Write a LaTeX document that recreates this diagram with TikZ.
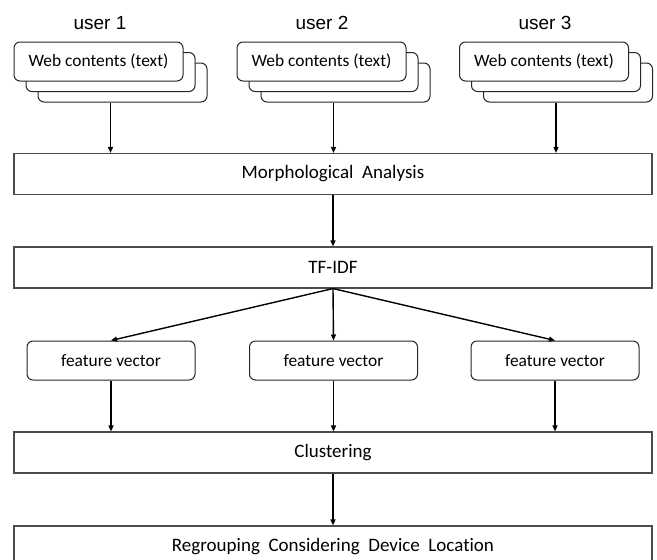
\documentclass[tikz,border=0pt]{standalone}
\usepackage{fontspec}
\setmainfont[Ligatures=NoCommon]{Carlito}
\newfontfamily\arialfont{Liberation Sans}
\usetikzlibrary{arrows.meta}
\begin{document}
\begin{tikzpicture}[x=1pt,y=-1pt,
  rectbox/.style={draw=black!70,line width=1.1pt,fill=white,minimum width=638pt,minimum height=41pt,inner sep=0pt,font=\fontsize{19}{22}\selectfont},
  webbox/.style={draw=black!85,line width=1pt,fill=white,rounded corners=6pt,minimum width=169pt,minimum height=39pt,inner sep=0pt,font=\fontsize{17.4}{20}\selectfont},
  fvbox/.style={draw=black!85,line width=1pt,fill=white,rounded corners=6pt,minimum width=168pt,minimum height=39pt,inner sep=0pt,font=\fontsize{17.4}{20}\selectfont},
  userlbl/.style={font=\arialfont\fontsize{19}{22}\selectfont,inner sep=0pt},
  arr/.style={draw=black,line width=1.4pt,-{Triangle[length=6pt,width=5pt]}}]
\useasboundingbox (0,0) rectangle (657,560);
% user stacks
\foreach \n/\cx/\lx in {1/98.5/100,2/321.5/322,3/544/545}{
  \node[webbox] (u\n c) at (\cx+24,82.5) {};
  \node[webbox] (u\n b) at (\cx+12,72) {};
  \node[webbox] (u\n a) at (\cx,61.5) {Web contents (text)};
  \node[userlbl] (l\n) at (\lx,23) {user \n};
}
\node[rectbox] (morph) at (333,174) {Morphological\ \ Analysis};
\node[rectbox] (tfidf) at (333,267.5) {TF-IDF};
\node[fvbox] (fv1) at (111,360.5) {feature vector};
\node[fvbox] (fv2) at (333.5,360.5) {feature vector};
\node[fvbox] (fv3) at (555,360.5) {feature vector};
\node[rectbox] (clust) at (333,452.5) {Clustering};
\node[rectbox] (regr) at (333,546.5) {Regrouping\ \ Considering\ \ Device\ \ Location};
% connectors
\foreach \n in {1,2,3}{
  \draw[arr] (u\n b.south |- u\n c.south) -- (u\n b.south |- morph.north);
}
\draw[arr] (morph.south) -- (tfidf.north);
\draw[arr] (tfidf.south) -- (fv1.north);
\draw[arr] (tfidf.south) -- (fv2.north);
\draw[arr] (tfidf.south) -- (fv3.north);
\foreach \n in {1,2,3}{
  \draw[arr] (fv\n.south) -- (fv\n.south |- clust.north);
}
\draw[arr] (clust.south) -- (regr.north);
\end{tikzpicture}
\end{document}
